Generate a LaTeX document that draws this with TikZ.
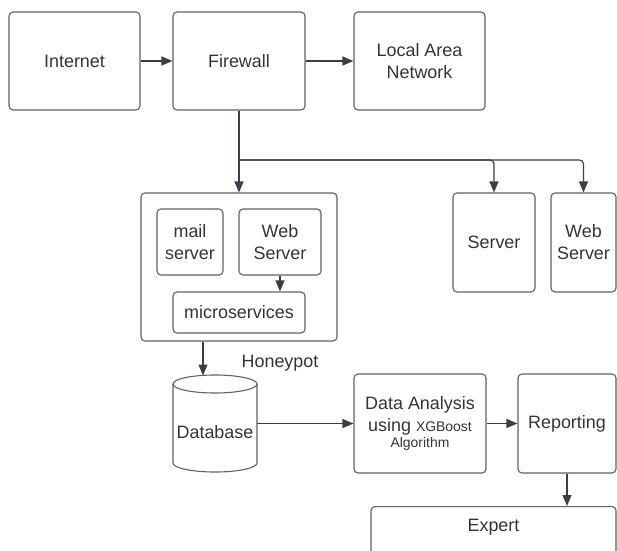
\documentclass[tikz,border=0pt]{standalone}
\usepackage{fontspec}
\setmainfont{Liberation Sans}
\usetikzlibrary{arrows.meta,calc}

\definecolor{boxline}{HTML}{5F6166}
\definecolor{arrowline}{HTML}{3A3E47}
\definecolor{txtgray}{HTML}{333333}

\begin{document}
\begin{tikzpicture}[x=1bp,y=-1bp,
  box/.style={draw=boxline, line width=1.1bp, rounded corners=4bp, text=txtgray,
    align=center, inner sep=0pt, font=\fontsize{18}{22}\selectfont},
  lbl/.style={text=txtgray, inner sep=0pt, align=center, font=\fontsize{18}{22}\selectfont},
  arr/.style={draw=arrowline, line width=1.2bp, -{Triangle[length=11bp,width=9bp]}}]
\useasboundingbox (0,0) rectangle (617,551);

% Top row
\node[box, minimum width=131bp, minimum height=98bp] (internet) at (74.5,61) {Internet};
\node[box, minimum width=132bp, minimum height=98bp] (firewall) at (239,61) {Firewall};
\node[box, minimum width=131bp, minimum height=98bp] (lan) at (419.5,61) {Local Area\\Network};

% Honeypot
\node[box, minimum width=196bp, minimum height=148bp] (hp) at (239,267) {};
\node[box, minimum width=66bp, minimum height=66bp] (mail) at (190,242) {mail\\server};
\node[box, minimum width=82bp, minimum height=66bp] (webin) at (280,242) {Web\\Server};
\node[box, minimum width=132bp, minimum height=41bp] (micro) at (239,312.5) {microservices};
\node[lbl] (hplabel) at (280,363) {Honeypot};

% Servers on the right
\node[box, minimum width=82bp, minimum height=99bp] (server) at (494,242.5) {Server};
\node[box, minimum width=65bp, minimum height=99bp] (webr) at (583.5,242.5) {Web\\Server};

% Database
\node[minimum width=84bp, minimum height=97bp, inner sep=0pt] (db) at (215,423.5) {};
\draw[boxline, line width=1.1bp] (215,384) ellipse [x radius=42, y radius=9];
\draw[boxline, line width=1.1bp] (173,384) -- (173,463)
  arc[start angle=180, end angle=0, x radius=42, y radius=9] -- (257,384);
\node[lbl] at (215,432) {Database};

% Analysis and output
\node[box, minimum width=132bp, minimum height=99bp] (data) at (420,423.5)
  {Data Analysis\\using {\fontsize{14}{17}\selectfont XGBoost}\\[-5bp]{\fontsize{14}{17}\selectfont Algorithm}};
\node[box, minimum width=98bp, minimum height=99bp] (rep) at (567,423.5) {Reporting};
\node[box, anchor=north, minimum width=245bp, minimum height=60bp] (expert) at (493.5,506) {};
\node[lbl] at (493.5,527) {Expert};

% Connectors
\draw[arr] (internet.east) -- (firewall.west);
\draw[arr] (firewall.east) -- (lan.west);
\draw[arr] (firewall.south) -- (hp.north);
\coordinate (split) at (239,160);
\draw[arr, rounded corners=4bp] (split) -| (server.north);
\draw[arr, rounded corners=4bp] (split) -| (webr.north);
\draw[arr] (webin.south) -- (webin.south |- micro.north);
\coordinate (dbin) at (203,375.5);
\draw[arr] (hp.south -| dbin) -- (dbin);
\draw[arr] (db.east) -- (data.west);
\draw[arr] (data.east) -- (rep.west);
\draw[arr] (rep.south) -- (rep.south |- expert.north);

\end{tikzpicture}
\end{document}
